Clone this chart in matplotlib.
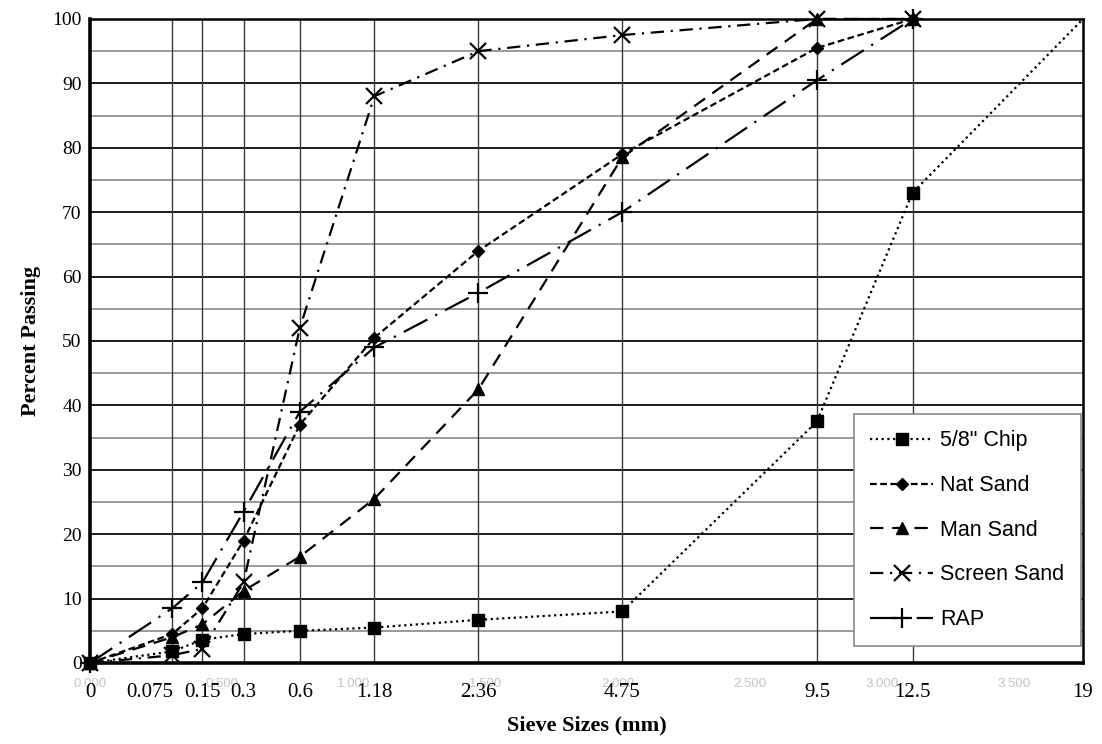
import numpy as np
import matplotlib.pyplot as plt

# sieve sizes (mm) and percent passing for each material
sieves = [0, 0.075, 0.15, 0.3, 0.6, 1.18, 2.36, 4.75, 9.5, 12.5, 19]
sieve_labels = ['0', '0.075', '0.15', '0.3', '0.6', '1.18', '2.36', '4.75', '9.5', '12.5', '19']

chip = [0, 1.8, 3.6, 4.5, 5.0, 5.5, 6.7, 8.0, 37.5, 73.0, 100]
nat_sand = [0, 4.5, 8.5, 19.0, 37.0, 50.5, 64.0, 79.0, 95.5, 100]
man_sand = [0, 4.0, 6.0, 11.2, 16.5, 25.5, 42.5, 78.5, 100, 100]
screen_sand = [0, 1.2, 2.2, 12.5, 52.0, 88.0, 95.0, 97.5, 100, 100]
rap = [0, 8.5, 12.5, 23.5, 39.0, 49.0, 57.5, 70.0, 90.5, 100]

# 0.45 power gradation axis
fwd = lambda x: np.power(np.clip(x, 0, None), 0.45)
inv = lambda y: np.power(np.clip(y, 0, None), 1 / 0.45)

fig = plt.figure(figsize=(11.02, 7.44), dpi=100)
ax = fig.add_axes([0.0817, 0.1089, 0.9011, 0.8656])
ax.set_xscale('function', functions=(fwd, inv))
ax.set_xlim(0, 19)
ax.set_ylim(0, 100)

# grid: dark lines every 10 %, lighter every 5 %, verticals on each sieve
for v in range(5, 100, 5):
    if v % 10 == 0:
        ax.axhline(v, color='#1a1a1a', lw=1.4, zorder=1)
    else:
        ax.axhline(v, color='#9a9a9a', lw=1.4, zorder=1)
for s in sieves[1:-1]:
    ax.axvline(s, color='#3a3a3a', lw=1.0, zorder=1)

kw = dict(color='black', lw=1.6, zorder=3, clip_on=False)
ax.plot(sieves, chip, linestyle=(0, (1, 1.6)), marker='s', ms=9, markevery=list(range(10)),
        label='5/8" Chip', **kw)
ax.plot(sieves[:10], nat_sand, linestyle=(0, (3, 1.6)), marker='D', ms=6, label='Nat Sand', **kw)
ax.plot(sieves[:10], man_sand, linestyle=(0, (6, 4)), marker='^', ms=8, label='Man Sand', **kw)
ax.plot(sieves[:10], screen_sand, linestyle=(0, (6, 3, 1, 3)), marker='x', ms=12, mew=1.6,
        label='Screen Sand', **kw)
ax.plot(sieves[:10], rap, linestyle=(0, (12, 4, 1, 4)), marker='+', ms=14, mew=1.6, label='RAP', **kw)

for side in ['left', 'bottom']:
    ax.spines[side].set_linewidth(2.6)
for side in ['top', 'right']:
    ax.spines[side].set_linewidth(1.8)

# faint power-scale ticks
pw = np.arange(0, 3.6, 0.5)
ax.set_xticks(inv(pw))
ax.set_xticklabels(['%.3f' % p for p in pw], fontsize=9.5, color='#c4c4c4', family='Liberation Sans')
ax.tick_params(axis='x', length=0, pad=11)
ax.minorticks_off()

ax.set_yticks(range(0, 101, 10))
ax.tick_params(axis='y', length=0, pad=6, labelsize=14)
for t in ax.get_yticklabels():
    t.set_family('Liberation Serif')

# sieve size labels
trans = ax.get_xaxis_transform()
for s, lab in zip(sieves, sieve_labels):
    ha = 'right' if lab == '0.075' else 'center'
    xo = 0.0765 if lab == '0.075' else s
    ax.text(xo, -0.046, lab, transform=trans, ha=ha, va='center', fontsize=15,
            family='Liberation Serif')

ax.set_ylabel('Percent Passing', fontsize=16, fontweight='bold', family='Liberation Serif', labelpad=8)
ax.text(0.5, -0.097, 'Sieve Sizes (mm)', transform=ax.transAxes, ha='center', va='center',
        fontsize=16, fontweight='bold', family='Liberation Serif')

leg = ax.legend(loc='lower right', bbox_to_anchor=(0.9975, 0.026), prop={'family': 'Liberation Sans', 'size': 15.5},
                labelspacing=1.1, handlelength=2.9, handletextpad=0.35, borderpad=0.75,
                fancybox=False, framealpha=1, edgecolor='#8a8a8a', borderaxespad=0)
leg.get_frame().set_linewidth(1.2)
leg.set_zorder(5)

fig.savefig('out.png', dpi=100)
